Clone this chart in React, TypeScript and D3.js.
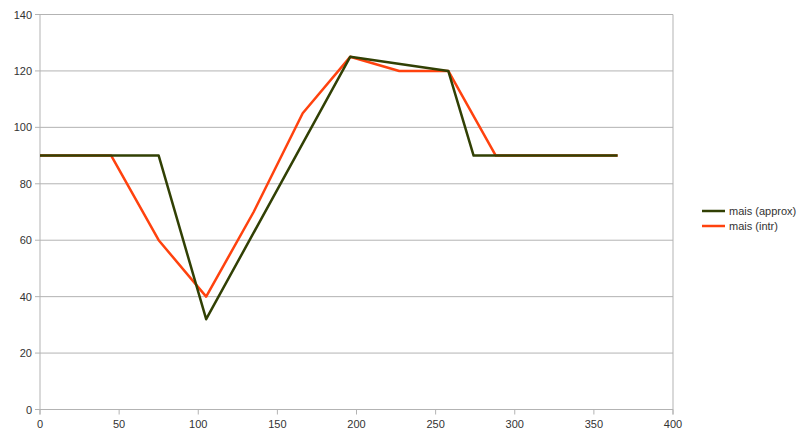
import React from "react";
import * as d3 from "d3";

const approxX = [0, 75, 105, 196, 258, 274, 365];
const approxY = [90, 90, 32, 125, 120, 90, 90];
const intrX = [0, 15, 45, 75, 105, 135, 166, 196, 227, 258, 288, 319, 349, 365];
const intrY = [90, 90, 90, 60, 40, 70, 105, 125, 120, 120, 90, 90, 90, 90];
const xTicks = [0, 50, 100, 150, 200, 250, 300, 350, 400];
const yTicks = [0, 20, 40, 60, 80, 100, 120, 140];
const seriesNames = ["mais (approx)", "mais (intr)"];
const seriesColors = ["#314004", "#ff420e"];

export default function App() {
  const W = 800, H = 438;
  const x = d3.scaleLinear().domain([0, 400]).range([40, 673]);
  const y = d3.scaleLinear().domain([0, 140]).range([409.5, 14.5]);
  const line = d3.line<[number, number]>().x(d => x(d[0])).y(d => y(d[1]));
  const approx = approxX.map((v, i) => [v, approxY[i]] as [number, number]);
  const intr = intrX.map((v, i) => [v, intrY[i]] as [number, number]);
  const font = "'Liberation Sans', Arial, sans-serif";
  return (
    <svg width={W} height={H} style={{ position: "absolute", left: 0, top: 0 }}>
      <rect width={W} height={H} fill="#fff" />
      {yTicks.map(t => (
        <g key={"y" + t}>
          <line x1={35} x2={673} y1={y(t)} y2={y(t)} stroke="#b3b3b3" strokeWidth={1} />
          <text x={32} y={y(t) + 4} textAnchor="end" fontFamily={font} fontSize={11} fill="#333">{t}</text>
        </g>
      ))}
      <line x1={x(0)} x2={x(0)} y1={y(140)} y2={y(0) + 5} stroke="#b3b3b3" />
      <line x1={x(400)} x2={x(400)} y1={y(140)} y2={y(0) + 5} stroke="#b3b3b3" />
      {xTicks.map(t => (
        <g key={"x" + t}>
          <line x1={x(t)} x2={x(t)} y1={y(0)} y2={y(0) + 5} stroke="#b3b3b3" />
          <text x={x(t)} y={428} textAnchor="middle" fontFamily={font} fontSize={11} fill="#333">{t}</text>
        </g>
      ))}
      <path d={line(intr) || ""} fill="none" stroke={seriesColors[1]} strokeWidth={2.5} strokeLinejoin="round" />
      <path d={line(approx) || ""} fill="none" stroke={seriesColors[0]} strokeWidth={2.5} strokeLinejoin="round" />
      {seriesNames.map((n, i) => (
        <g key={n}>
          <line x1={702} x2={725} y1={211 + i * 15} y2={211 + i * 15} stroke={seriesColors[i]} strokeWidth={2.5} />
          <text x={729} y={215 + i * 15} fontFamily={font} fontSize={11} fill="#333">{n}</text>
        </g>
      ))}
    </svg>
  );
}
